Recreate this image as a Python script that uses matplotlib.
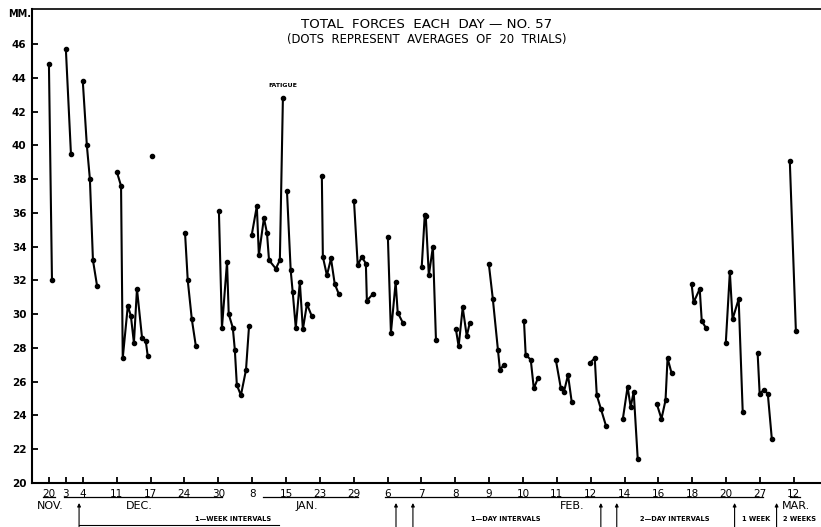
import matplotlib
matplotlib.use("Agg")
import matplotlib.pyplot as plt
from matplotlib.transforms import blended_transform_factory

# ---------------- data ----------------
tick_labels = ['20', '3', '4', '11', '17', '24', '30', '8', '15', '23', '29',
               '6', '7', '8', '9', '10', '11', '12', '14', '16', '18', '20', '27', '12']
tick_pos = [0, 0.5, 1, 2, 3, 4, 5, 6, 7, 8, 9, 10, 11, 12, 13, 14, 15, 16,
            17, 18, 19, 20, 21, 22]
y_ticks = list(range(20, 47, 2))

# each session: x position on the ordinal date scale, and average force (mm)
session_x = [
    [0.00, 0.09],
    [0.50, 0.65],
    [1.00, 1.12, 1.21, 1.30, 1.42],
    [2.01, 2.13, 2.18, 2.33, 2.42, 2.51, 2.60, 2.75, 2.86, 2.92],
    [3.04],
    [4.02, 4.10, 4.22, 4.34],
    [5.02, 5.11, 5.26, 5.31, 5.43, 5.49, 5.55, 5.67, 5.82, 5.91],
    [5.99, 6.14, 6.20, 6.35, 6.44, 6.50, 6.70, 6.82, 6.91],
    [7.03, 7.14, 7.20, 7.29, 7.41, 7.50, 7.62, 7.76],
    [8.06, 8.09, 8.21, 8.33, 8.44, 8.56],
    [9.01, 9.12, 9.24, 9.36, 9.39, 9.57],
    [10.01, 10.10, 10.24, 10.30, 10.45],
    [11.01, 11.10, 11.13, 11.22, 11.34, 11.43],
    [12.02, 12.10, 12.22, 12.34, 12.43],
    [12.99, 13.11, 13.26, 13.32, 13.43],
    [14.03, 14.08, 14.23, 14.32, 14.44],
    [14.97, 15.12, 15.21, 15.33, 15.44],
    [15.97, 16.12, 16.18, 16.30, 16.45],
    [16.95, 17.09, 17.18, 17.27, 17.39],
    [17.95, 18.09, 18.21, 18.27, 18.39],
    [18.98, 19.04, 19.22, 19.28, 19.40],
    [19.99, 20.11, 20.19, 20.37, 20.49],
    [20.93, 20.99, 21.11, 21.23, 21.35],
    [21.88, 22.06],
]
session_y = [
    [44.8, 32.0],
    [45.7, 39.5],
    [43.8, 40.0, 38.0, 33.2, 31.7],
    [38.4, 37.6, 27.4, 30.5, 29.9, 28.3, 31.5, 28.6, 28.4, 27.5],
    [39.4],
    [34.8, 32.0, 29.7, 28.1],
    [36.1, 29.2, 33.1, 30.0, 29.2, 27.9, 25.8, 25.2, 26.7, 29.3],
    [34.7, 36.4, 33.5, 35.7, 34.8, 33.2, 32.7, 33.2, 42.8],
    [37.3, 32.6, 31.3, 29.2, 31.9, 29.1, 30.6, 29.9],
    [38.2, 33.4, 32.3, 33.3, 31.8, 31.2],
    [36.7, 32.9, 33.4, 33.0, 30.8, 31.2],
    [34.6, 28.9, 31.9, 30.1, 29.5],
    [32.8, 35.9, 35.8, 32.3, 34.0, 28.5],
    [29.1, 28.1, 30.4, 28.7, 29.5],
    [33.0, 30.9, 27.9, 26.7, 27.0],
    [29.6, 27.6, 27.3, 25.6, 26.2],
    [27.3, 25.6, 25.4, 26.4, 24.8],
    [27.1, 27.4, 25.2, 24.4, 23.4],
    [23.8, 25.7, 24.5, 25.4, 21.4],
    [24.7, 23.8, 24.9, 27.4, 26.5],
    [31.8, 30.7, 31.5, 29.6, 29.2],
    [28.3, 32.5, 29.7, 30.9, 24.2],
    [27.7, 25.3, 25.5, 25.3, 22.6],
    [39.1, 29.0],
]

months = ['NOV.', 'DEC.', 'JAN.', 'FEB.', 'MAR.']
month_pos = [0.03, 2.66, 7.62, 15.44, 22.05]
month_underlines = [(-0.18, 0.18), (0.44, 5.10), (6.32, 9.12), (9.92, 21.08), (21.88, 22.17)]

interval_labels = ['1\u2014WEEK INTERVALS', '1\u2014DAY INTERVALS', '2\u2014DAY INTERVALS',
                   '1 WEEK', '2 WEEKS']
interval_pos = [5.43, 13.5, 18.48, 20.9, 22.17]
arrow_pos = [0.89, 10.25, 10.75, 16.30, 16.77, 20.25, 21.49]

# ---------------- figure ----------------
W, H = 821, 527
fig = plt.figure(figsize=(W / 100, H / 100), dpi=100)
ax = fig.add_axes([32 / W, 1 - 483 / H, 1 - 32 / W + 0.01, (483 - 9) / H])

xmin = -0.5
xmax = xmin + (W * 1.01 - 32) / 33.86
ax.set_xlim(xmin, xmax)
ax.set_ylim(20, 20 + (483 - 9) / 16.88)

for xs, ys in zip(session_x, session_y):
    ax.plot(xs, ys, color='black', lw=1.5, marker='o', ms=3.0,
            solid_joinstyle='round')

ax.set_xticks(tick_pos)
ax.set_xticklabels(tick_labels, fontsize=7.5)
ax.set_yticks(y_ticks)
ax.set_yticklabels([str(v) for v in y_ticks], fontsize=7.5, fontweight='bold')
ax.tick_params(axis='both', direction='in', length=4, width=1.3, color='black')
ax.tick_params(axis='x', pad=4)
ax.tick_params(axis='y', pad=4)

for s in ['left', 'bottom', 'top']:
    ax.spines[s].set_linewidth(1.5)
ax.spines['top'].set_linewidth(1.2)
ax.spines['right'].set_visible(False)

ax.text(283 / 33.86 - 49 / 33.86, 42.8 + 0.6, 'FATIGUE', fontsize=4.5,
        fontweight='bold', ha='center', va='bottom')

fig.text(8 / W, 1 - 14 / H, 'MM.', fontsize=7, fontweight='bold', ha='left', va='center')
fig.text(427 / W, 1 - 24 / H, 'TOTAL  FORCES  EACH  DAY \u2014 NO. 57', fontsize=9.6,
         ha='center', va='center')
fig.text(427 / W, 1 - 40 / H, '(DOTS  REPRESENT  AVERAGES  OF  20  TRIALS)', fontsize=8.4,
         ha='center', va='center')

bt = blended_transform_factory(ax.transData, fig.transFigure)


def fy(py):
    return 1 - py / H


for (a, b) in month_underlines:
    ax.plot([a, b], [fy(497), fy(497)], transform=bt, color='black', lw=0.9, clip_on=False)
for lab, p in zip(months, month_pos):
    ax.text(p, fy(506), lab, transform=bt, fontsize=8, ha='center', va='center')
for lab, p in zip(interval_labels, interval_pos):
    ax.text(p, fy(519), lab, transform=bt, fontsize=4.8, fontweight='bold',
            ha='center', va='center')
for p in arrow_pos:
    ax.annotate('', xy=(p, fy(503)), xytext=(p, fy(530)), xycoords=bt, textcoords=bt,
                arrowprops=dict(arrowstyle='-|>', color='black', lw=0.8,
                                mutation_scale=5, shrinkA=0, shrinkB=0),
                annotation_clip=False)
ax.plot([arrow_pos[0], 6.8], [fy(525), fy(525)], transform=bt, color='black', lw=0.8,
        clip_on=False)

fig.savefig('out.png', dpi=100)
